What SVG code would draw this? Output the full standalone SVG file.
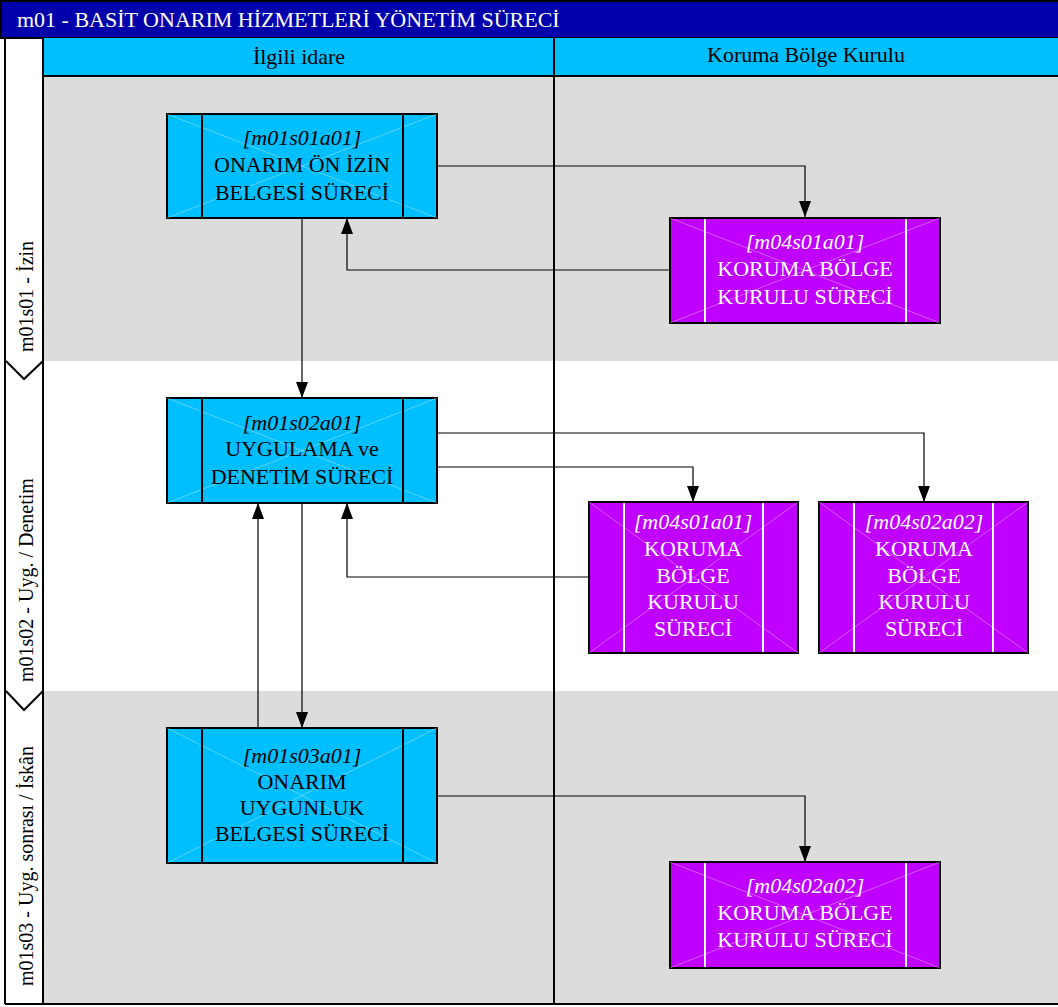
<svg xmlns="http://www.w3.org/2000/svg" width="1058" height="1007" viewBox="0 0 1058 1007">
<style>
.t{font-family:"Liberation Serif","Times New Roman",serif;font-size:22px;text-anchor:middle}
.i{font-style:italic}
.blue{fill:#00BFFF;stroke:#000;stroke-width:2}
.purp{fill:#BF00FF;stroke:#000;stroke-width:2}
.bin{stroke:#000;stroke-width:2;fill:none}
.pin{stroke:#fff;stroke-width:2;fill:none}
.x{stroke:#fff;stroke-opacity:0.35;stroke-width:1;fill:none}
.wt{fill:#fff}
.bt{fill:#000}
.c{fill:none;stroke:#000;stroke-width:1.2;marker-end:url(#ah)}
.ln{stroke:#000;stroke-width:2;fill:none}
.lab{font-family:"Liberation Serif","Times New Roman",serif;font-size:20px}
</style>
<defs>
<marker id="ah" viewBox="0 0 16 12" refX="16" refY="6" markerWidth="16" markerHeight="12" markerUnits="userSpaceOnUse" orient="auto">
<path d="M0,0 L16,6 L0,12 Z" fill="#000"/>
</marker>
</defs>
<g id="background">
<rect x="0" y="0" width="1058" height="1007" fill="#fff"/>
<rect x="43" y="76" width="1015" height="285" fill="#DCDCDC"/>
<rect x="43" y="361" width="1015" height="330" fill="#fff"/>
<rect x="43" y="691" width="1015" height="312" fill="#DCDCDC"/>
</g>
<g id="title">
<rect x="0" y="0" width="1058" height="38" fill="#0000AA"/>
<line x1="0" y1="1" x2="1058" y2="1" stroke="#000" stroke-width="2"/>
<line x1="0" y1="38" x2="1058" y2="38" stroke="#000" stroke-width="2"/>
<line x1="1" y1="0" x2="1" y2="38" stroke="#000" stroke-width="2"/>
<text x="17" y="27" class="lab wt" style="font-size:22px">m01 - BASİT ONARIM HİZMETLERİ YÖNETİM SÜRECİ</text>
</g>
<g id="headers">
<rect x="43" y="38" width="1015" height="38" fill="#00BFFF"/>
<line x1="43" y1="76" x2="1058" y2="76" class="ln"/>
<line x1="43" y1="38" x2="43" y2="76" class="ln"/>
<text x="299" y="64" class="lab bt" style="text-anchor:middle;font-size:22px">İlgili idare</text>
<text x="806" y="62" class="lab bt" style="text-anchor:middle;font-size:22px">Koruma Bölge Kurulu</text>
</g>
<g id="lanes">
<line x1="5" y1="38" x2="5" y2="1004" class="ln"/>
<line x1="43" y1="38" x2="43" y2="1004" class="ln"/>
<line x1="5" y1="1004" x2="1058" y2="1004" class="ln"/>
<line x1="554" y1="38" x2="554" y2="1004" class="ln"/>
<polyline points="6,361 24,379 43,361" class="ln"/>
<polyline points="6,691 24,710 43,691" class="ln"/>
<text transform="translate(33,352) rotate(-90)" class="lab bt">m01s01 - İzin</text>
<text transform="translate(33,682) rotate(-90)" class="lab bt">m01s02 - Uyg. / Denetim</text>
<text transform="translate(33,986) rotate(-90)" class="lab bt">m01s03 - Uyg. sonrası / İskân</text>
</g>
<g id="connectors">
<polyline points="437,166 805,166 805,217" class="c"/>
<polyline points="670,270 347,270 347,218" class="c"/>
<polyline points="302,218 302,398" class="c"/>
<polyline points="437,433 924,433 924,502" class="c"/>
<polyline points="437,467 693,467 693,502" class="c"/>
<polyline points="589,577 347,577 347,503" class="c"/>
<polyline points="302,503 302,728" class="c"/>
<polyline points="258,728 258,503" class="c"/>
<polyline points="437,796 805,796 805,862" class="c"/>
</g>
<g id="m01s01a01">
<rect x="167" y="114" width="270" height="104" class="blue"/>
<path d="M167,114 L437,218 M437,114 L167,218" class="x"/>
<path d="M202,114 V218 M403,114 V218" class="bin"/>
<text class="t bt"><tspan x="302" y="145" class="i">[m01s01a01]</tspan><tspan x="302" y="172">ONARIM ÖN İZİN</tspan><tspan x="302" y="200">BELGESİ SÜRECİ</tspan></text>
</g>
<g id="m04s01a01_1">
<rect x="670" y="218" width="270" height="105" class="purp"/>
<path d="M670,218 L940,323 M940,218 L670,323" class="x"/>
<path d="M705,219 V322 M906,219 V322" class="pin"/>
<text class="t wt"><tspan x="805" y="249" class="i">[m04s01a01]</tspan><tspan x="805" y="276">KORUMA BÖLGE</tspan><tspan x="805" y="304">KURULU SÜRECİ</tspan></text>
</g>
<g id="m01s02a01">
<rect x="167" y="398" width="270" height="105" class="blue"/>
<path d="M167,398 L437,503 M437,398 L167,503" class="x"/>
<path d="M202,398 V503 M403,398 V503" class="bin"/>
<text class="t bt"><tspan x="302" y="430" class="i">[m01s02a01]</tspan><tspan x="302" y="456">UYGULAMA ve</tspan><tspan x="302" y="484">DENETİM SÜRECİ</tspan></text>
</g>
<g id="m04s01a01_2">
<rect x="589" y="502" width="209" height="151" class="purp"/>
<path d="M589,502 L798,653 M798,502 L589,653" class="x"/>
<path d="M624,503 V652 M763,503 V652" class="pin"/>
<text class="t wt"><tspan x="693" y="529" class="i">[m04s01a01]</tspan><tspan x="693" y="556">KORUMA</tspan><tspan x="693" y="583">BÖLGE</tspan><tspan x="693" y="609">KURULU</tspan><tspan x="693" y="636">SÜRECİ</tspan></text>
</g>
<g id="m04s02a02_1">
<rect x="819" y="502" width="209" height="151" class="purp"/>
<path d="M819,502 L1028,653 M1028,502 L819,653" class="x"/>
<path d="M854,503 V652 M993,503 V652" class="pin"/>
<text class="t wt"><tspan x="924" y="529" class="i">[m04s02a02]</tspan><tspan x="924" y="556">KORUMA</tspan><tspan x="924" y="583">BÖLGE</tspan><tspan x="924" y="609">KURULU</tspan><tspan x="924" y="636">SÜRECİ</tspan></text>
</g>
<g id="m01s03a01">
<rect x="167" y="728" width="270" height="135" class="blue"/>
<path d="M167,728 L437,863 M437,728 L167,863" class="x"/>
<path d="M202,728 V863 M403,728 V863" class="bin"/>
<text class="t bt"><tspan x="302" y="763" class="i">[m01s03a01]</tspan><tspan x="302" y="789">ONARIM</tspan><tspan x="302" y="815">UYGUNLUK</tspan><tspan x="302" y="841">BELGESİ SÜRECİ</tspan></text>
</g>
<g id="m04s02a02_2">
<rect x="670" y="862" width="270" height="106" class="purp"/>
<path d="M670,862 L940,968 M940,862 L670,968" class="x"/>
<path d="M705,863 V967 M906,863 V967" class="pin"/>
<text class="t wt"><tspan x="805" y="893" class="i">[m04s02a02]</tspan><tspan x="805" y="920">KORUMA BÖLGE</tspan><tspan x="805" y="947">KURULU SÜRECİ</tspan></text>
</g>
</svg>
